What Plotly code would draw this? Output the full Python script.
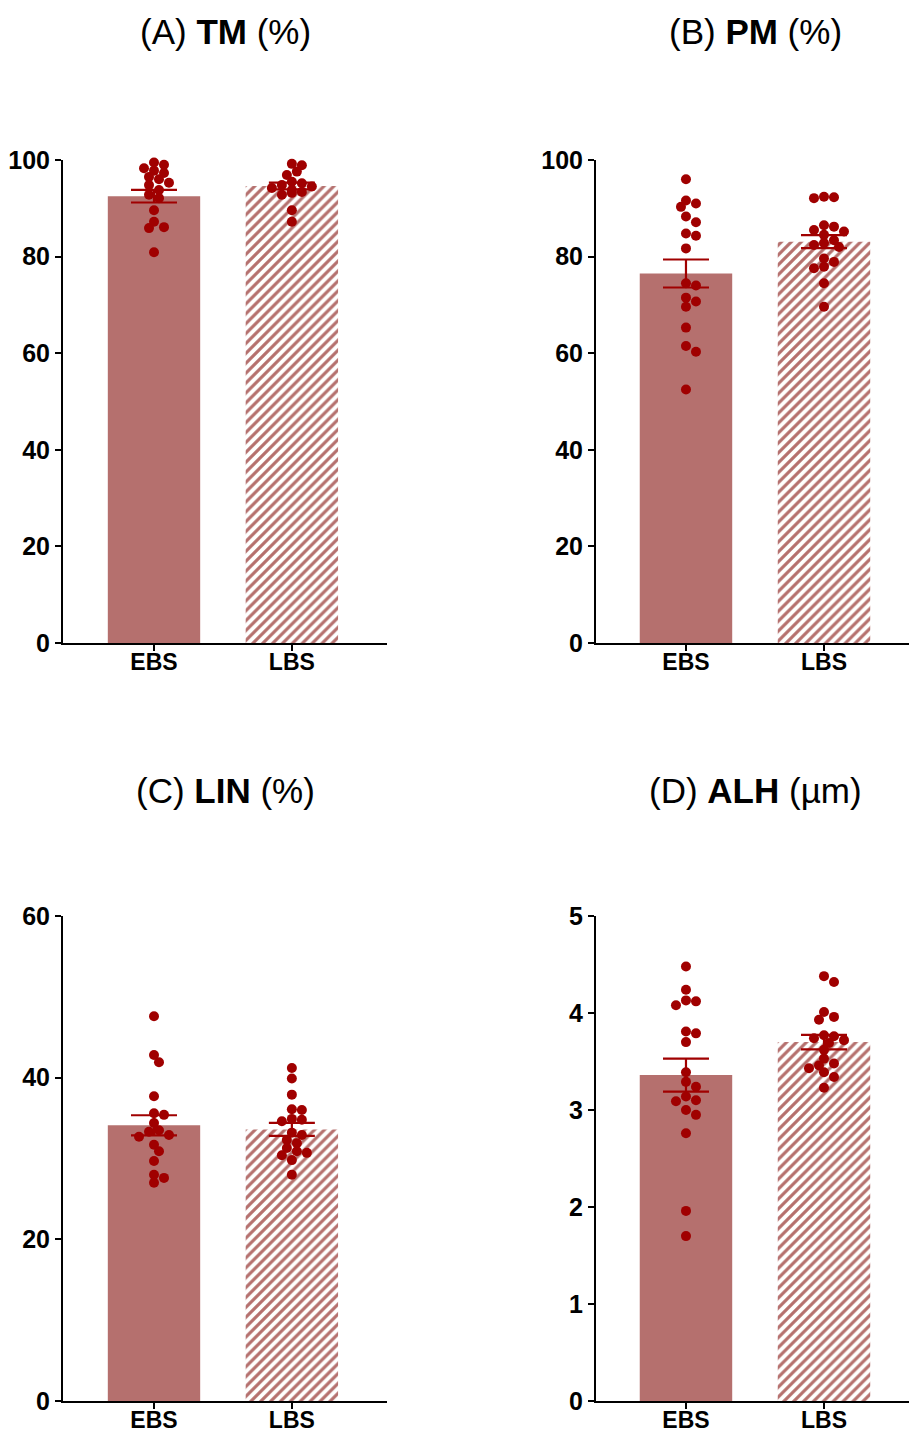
import plotly.graph_objects as go

# ---------------- data ----------------
groups = ["EBS", "LBS"]

tm_ebs = [99.5, 99.0, 98.3, 97.8, 97.3, 96.5, 96.0, 95.3, 94.8, 93.8, 92.8, 92.1, 89.6, 87.2, 86.1, 85.9, 80.9]
tm_lbs = [99.2, 98.9, 97.6, 96.9, 95.5, 95.2, 94.8, 94.5, 94.2, 93.8, 93.4, 93.2, 92.8, 89.6, 87.2]
tm_mean = [92.5, 94.6]
tm_sem = [1.3, 0.7]

pm_ebs = [96.0, 91.6, 91.0, 90.3, 88.3, 87.1, 84.8, 84.3, 81.7, 74.5, 74.0, 71.5, 70.7, 69.6, 65.3, 61.5, 60.3, 52.5]
pm_lbs = [92.4, 92.3, 92.1, 86.5, 86.2, 85.5, 85.2, 84.5, 83.4, 82.8, 82.4, 82.0, 79.6, 78.9, 77.9, 77.6, 74.5, 69.6]
pm_mean = [76.5, 83.1]
pm_sem = [2.9, 1.35]

lin_ebs = [47.6, 42.8, 41.9, 37.7, 35.6, 35.4, 34.4, 33.5, 33.3, 32.9, 32.7, 31.7, 30.9, 29.7, 28.0, 27.6, 27.0]
lin_lbs = [41.2, 39.9, 37.9, 36.1, 36.0, 34.9, 34.8, 34.6, 33.2, 32.9, 32.3, 31.9, 31.3, 30.9, 30.7, 30.4, 29.8, 28.0]
lin_mean = [34.1, 33.6]
lin_sem = [1.25, 0.8]

alh_ebs = [4.48, 4.24, 4.13, 4.12, 4.08, 3.81, 3.79, 3.70, 3.39, 3.29, 3.24, 3.14, 3.10, 3.09, 3.00, 2.95, 2.76, 1.96, 1.70]
alh_lbs = [4.38, 4.32, 4.01, 3.96, 3.93, 3.77, 3.76, 3.74, 3.72, 3.69, 3.62, 3.53, 3.48, 3.46, 3.43, 3.39, 3.34, 3.23]
alh_mean = [3.36, 3.70]
alh_sem = [0.17, 0.075]

titles = ["(A) <b>TM</b> (%)", "(B) <b>PM</b> (%)", "(C) <b>LIN</b> (%)", "(D) <b>ALH</b> (µm)"]
y_max = [100, 100, 60, 5]
y_dtick = [20, 20, 20, 1]

panels = [
    (tm_ebs, tm_lbs, tm_mean, tm_sem),
    (pm_ebs, pm_lbs, pm_mean, pm_sem),
    (lin_ebs, lin_lbs, lin_mean, lin_sem),
    (alh_ebs, alh_lbs, alh_mean, alh_sem),
]

# ---------------- style / layout ----------------
W, H = 909, 1434
BAR_COLOR = "#b5706e"
DOT_COLOR = "#a00000"
FONT = "Arial, Liberation Sans, Helvetica, sans-serif"

x_doms = [(63 / W, 387 / W), (596 / W, 1.0)]
x_ranges = [(-0.66, 1.69), (-0.652, 1.616)]
y_doms = [((H - 643) / H, (H - 160) / H), ((H - 1401) / H, (H - 916) / H)]
PX_PER_X = 138.0


def swarm_offsets(vals, px_per_y, diam=8.0, step=5.0):
    placed = []
    offs = []
    for v in vals:
        y = v * px_per_y
        chosen = 0.0
        for k in [0, 1, -1, 2, -2, 3, -3, 4, -4]:
            x = k * step
            if all((x - px) ** 2 + (y - py) ** 2 >= diam ** 2 for px, py in placed):
                chosen = x
                break
        placed.append((chosen, y))
        offs.append(chosen / PX_PER_X)
    return offs


fig = go.Figure()
layout_axes = {}
annotations = []

for i, (ebs, lbs, mean, sem) in enumerate(panels):
    col = i % 2
    row = i // 2
    n = i + 1
    xa = "x" if n == 1 else f"x{n}"
    ya = "y" if n == 1 else f"y{n}"
    xkey = "xaxis" if n == 1 else f"xaxis{n}"
    ykey = "yaxis" if n == 1 else f"yaxis{n}"

    ydom = y_doms[row]
    plot_h_px = (ydom[1] - ydom[0]) * H
    px_per_y = plot_h_px / y_max[i]

    # solid bar (EBS)
    fig.add_trace(go.Bar(
        x=[0], y=[mean[0]], width=0.67,
        marker=dict(color=BAR_COLOR, line=dict(width=0)),
        xaxis=xa, yaxis=ya, showlegend=False, hoverinfo="skip",
    ))
    # hatched bar (LBS)
    fig.add_trace(go.Bar(
        x=[1], y=[mean[1]], width=0.67,
        marker=dict(
            color="white", line=dict(width=0),
            pattern=dict(shape="/", fillmode="overlay", fgcolor=BAR_COLOR,
                         fgopacity=1, size=7, solidity=0.45),
        ),
        xaxis=xa, yaxis=ya, showlegend=False, hoverinfo="skip",
    ))

    # dots
    for gi, vals in enumerate([ebs, lbs]):
        offs = swarm_offsets(vals, px_per_y)
        fig.add_trace(go.Scatter(
            x=[gi + o for o in offs], y=vals, mode="markers",
            marker=dict(size=10, color=DOT_COLOR, line=dict(width=0)),
            xaxis=xa, yaxis=ya, showlegend=False, cliponaxis=False,
        ))

    # error bars (mean ± SEM)
    fig.add_trace(go.Scatter(
        x=[0, 1], y=mean, mode="markers",
        marker=dict(size=1, color="rgba(0,0,0,0)"),
        error_y=dict(type="data", array=sem, visible=True, color=DOT_COLOR,
                     thickness=2.2, width=23),
        xaxis=xa, yaxis=ya, showlegend=False, cliponaxis=False,
    ))

    layout_axes[xkey] = dict(
        domain=list(x_doms[col]), range=list(x_ranges[col]),
        tickvals=[0, 1], ticktext=groups, showline=True, linecolor="black",
        linewidth=2, ticks="outside", ticklen=6, tickwidth=2, tickcolor="black",
        showgrid=False, zeroline=False, anchor=ya, fixedrange=True,
        automargin=False, ticklabelstandoff=-9,
        tickfont=dict(family=FONT, size=23, color="black", weight="bold"),
    )
    layout_axes[ykey] = dict(
        domain=list(ydom), range=[0, y_max[i]], dtick=y_dtick[i], tick0=0,
        showline=True, linecolor="black", linewidth=2, ticks="outside",
        ticklen=6, tickwidth=2, tickcolor="black", showgrid=False,
        zeroline=False, anchor=xa, automargin=False,
        tickfont=dict(family=FONT, size=25, color="black", weight="bold"),
    )

    title_y = [1 - 32 / H, 1 - 790 / H][row]
    annotations.append(dict(
        text=titles[i], x=sum(x_doms[col]) / 2 if col == 0 else 755 / W,
        y=title_y, xref="paper", yref="paper", showarrow=False,
        xanchor="center", yanchor="middle",
        font=dict(family=FONT, size=35, color="black"),
    ))

fig.update_layout(
    width=W, height=H, margin=dict(l=0, r=0, t=0, b=0, autoexpand=False),
    paper_bgcolor="white", plot_bgcolor="white",
    barmode="overlay", annotations=annotations, **layout_axes,
)

fig.write_html("out.html")
